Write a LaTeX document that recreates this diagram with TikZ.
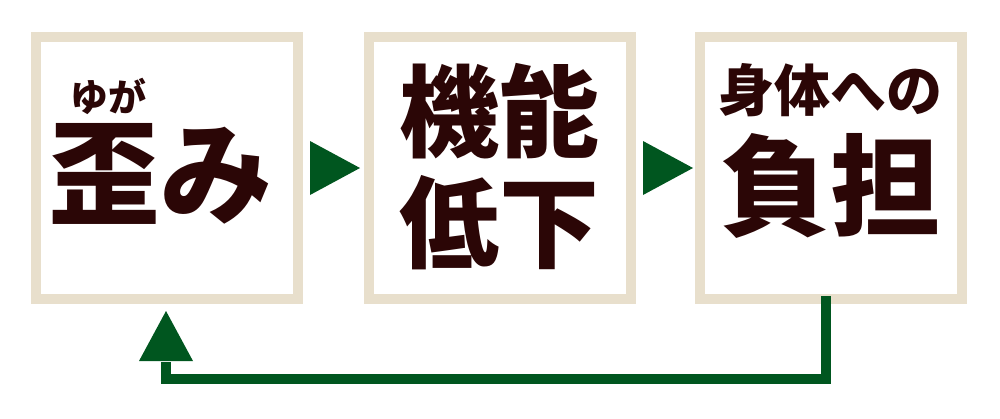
\documentclass[tikz,border=0pt]{standalone}
\usepackage{fontspec}
\newfontfamily\cjk{Noto Sans CJK JP}[UprightFont=* Black]
\definecolor{beige}{HTML}{E8DFCC}
\definecolor{ink}{HTML}{2B0606}
\definecolor{arrowgreen}{HTML}{00561F}
\tikzset{
  box/.style={draw=beige, line width=10pt, fill=white, minimum width=262pt, minimum height=262pt, inner sep=0pt},
  label/.style={inner sep=0pt, anchor=base, text=ink, font=\cjk},
  head/.style={fill=arrowgreen},
  loopline/.style={draw=arrowgreen, line width=10pt}
}
\begin{document}
\begin{tikzpicture}[x=1pt,y=-1pt]
\useasboundingbox (0,0) rectangle (1000,418);
\node[box] (b1) at (167,168) {};
\node[box] (b2) at (500,168) {};
\node[box] (b3) at (831,168) {};
% texts
\node[label] (t1r) at (108,111) {\fontsize{38}{38}\selectfont ゆが};
\node[label] (t1) at (160,215) {\fontsize{112}{112}\selectfont 歪み};
\node[label] (t2a) at (499,149) {\fontsize{100}{100}\selectfont 機能};
\node[label] (t2b) at (499,260) {\fontsize{100}{100}\selectfont 低下};
\node[label] (t3a) at (830,111) {\fontsize{56}{56}\selectfont 身体への};
\node[label] (t3b) at (830,227) {\fontsize{110}{110}\selectfont 負担};
% arrowheads between boxes
\fill[head] ([xshift=7pt,yshift=27pt]b1.east) -- ([xshift=57pt]b1.east) -- ([xshift=7pt,yshift=-27pt]b1.east) -- cycle;
\fill[head] ([xshift=7pt,yshift=27pt]b2.east) -- ([xshift=57pt]b2.east) -- ([xshift=7pt,yshift=-27pt]b2.east) -- cycle;
% feedback loop
\coordinate (c1) at ([xshift=-5pt,yshift=-75pt]b3.south);
\coordinate (c2) at ([xshift=-1pt,yshift=-58pt]b1.south);
\draw[loopline] ([xshift=-5pt,yshift=8pt]b3.south) -- (c1) -| (c2);
\fill[head] ([xshift=-28pt,yshift=-57pt]b1.south) -- ([xshift=-1pt,yshift=-7pt]b1.south) -- ([xshift=26pt,yshift=-57pt]b1.south) -- cycle;
\end{tikzpicture}
\end{document}
